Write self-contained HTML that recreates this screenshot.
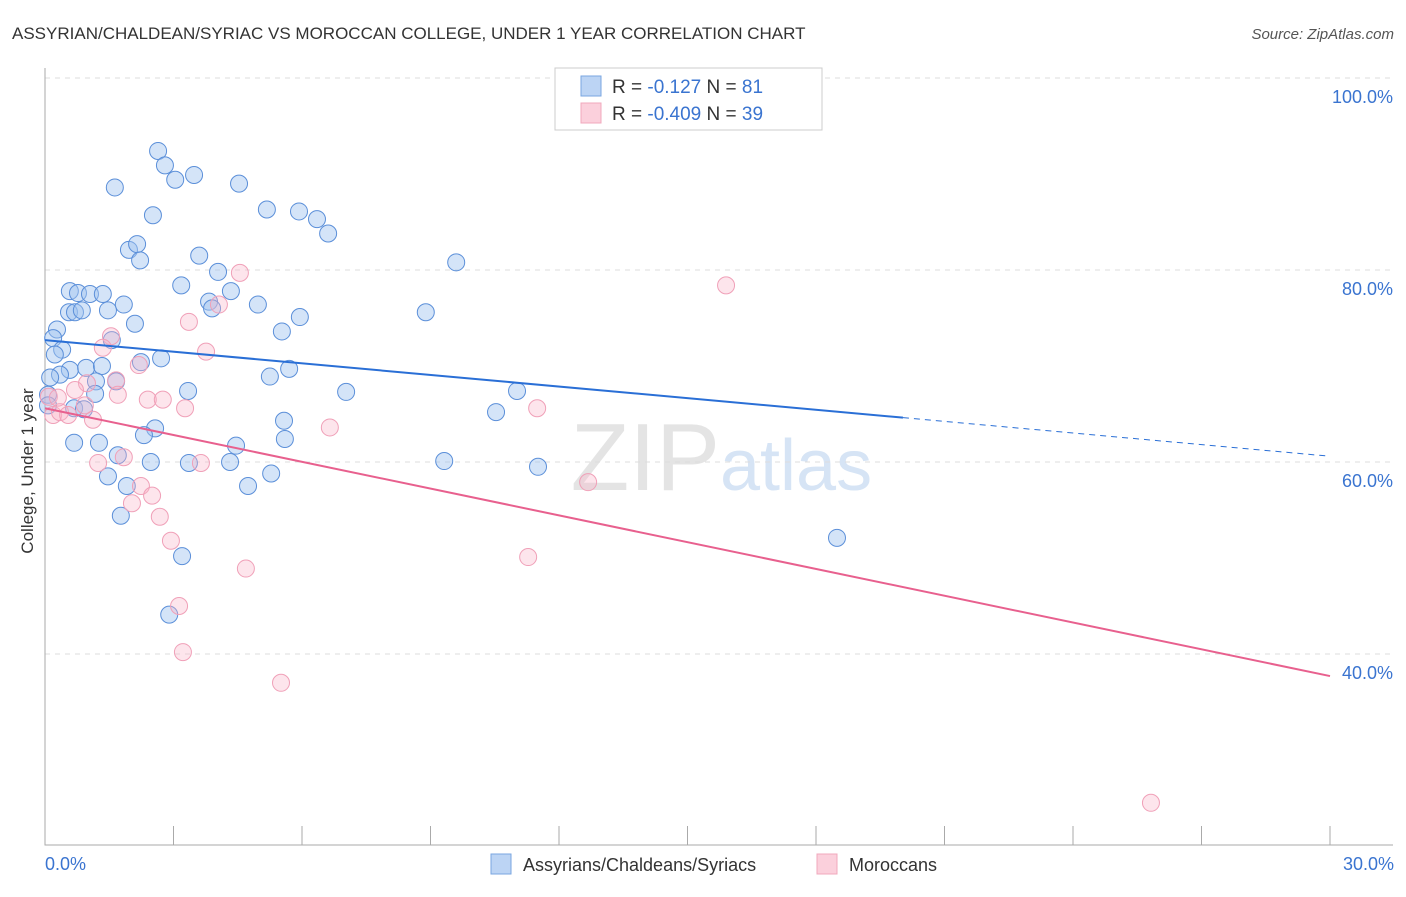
<!DOCTYPE html>
<html><head><meta charset="utf-8"><style>
body{margin:0;background:#fff;font-family:"Liberation Sans",sans-serif;}
svg text{font-family:"Liberation Sans",sans-serif;}
</style></head><body>
<svg width="1406" height="892" xmlns="http://www.w3.org/2000/svg">
<text x="12" y="39" font-size="17" fill="#333">ASSYRIAN/CHALDEAN/SYRIAC VS MOROCCAN COLLEGE, UNDER 1 YEAR CORRELATION CHART</text>
<text x="1394" y="39" font-size="15" fill="#555" font-style="italic" text-anchor="end">Source: ZipAtlas.com</text>
<text x="720" y="490" font-size="96" fill="#e4e4e4" text-anchor="end" font-family="Liberation Serif">ZIP</text>
<text x="720" y="490" font-size="72" fill="#d6e4f5">atlas</text>
<g id="grid"></g>
<g id="axes"></g>
<g id="pts"></g>
<g id="lines"></g>
<text x="20" y="458" font-size="17" fill="#333" transform="rotate(-90 33 458)" text-anchor="middle">College, Under 1 year</text>
<text x="45" y="870" font-size="18" fill="#3a74d0">0.0%</text>
<text x="1394" y="870" font-size="18" fill="#3a74d0" text-anchor="end">30.0%</text>
<g>
<rect x="555" y="68" width="267" height="62" fill="#fff" stroke="#ccc"/>
<rect x="581" y="76" width="20" height="20" fill="#bcd4f4" stroke="#7aa6e0"/>
<rect x="581" y="103" width="20" height="20" fill="#fbd0dc" stroke="#f0a8bc"/>
<text x="612" y="93" font-size="19" fill="#333">R = <tspan fill="#3a74d0"> -0.127</tspan>    N = <tspan fill="#3a74d0"> 81</tspan></text>
<text x="612" y="120" font-size="19" fill="#333">R = <tspan fill="#3a74d0">-0.409</tspan>    N = <tspan fill="#3a74d0">39</tspan></text>
</g>
<g>
<rect x="491" y="854" width="20" height="20" fill="#bcd4f4" stroke="#7aa6e0"/>
<text x="523" y="871" font-size="18" fill="#333">Assyrians/Chaldeans/Syriacs</text>
<rect x="817" y="854" width="20" height="20" fill="#fbd0dc" stroke="#f0a8bc"/>
<text x="849" y="871" font-size="18" fill="#333">Moroccans</text>
</g>
</svg>
<script>
const blueX=[2.64,2.80,3.04,3.48,4.53,1.63,2.52,5.18,5.93,6.35,6.61,1.96,2.15,2.22,3.60,9.60,4.04,3.18,4.34,0.58,0.77,1.05,1.35,1.84,3.83,3.90,4.97,0.56,0.70,0.86,1.47,8.89,5.95,2.10,5.53,0.28,0.19,1.56,0.40,0.23,2.71,2.24,5.70,0.58,0.35,0.96,1.33,1.19,5.25,1.66,0.12,3.34,7.03,11.02,1.17,0.07,0.68,0.91,10.53,5.58,2.57,2.31,5.60,0.68,1.26,4.46,1.70,2.47,3.36,4.32,9.32,11.51,1.47,5.28,1.91,4.74,1.77,3.20,18.49,2.90,0.07];
const blueY=[92.4,90.9,89.4,89.9,89.0,88.6,85.7,86.3,86.1,85.3,83.8,82.1,82.7,81.0,81.5,80.8,79.8,78.4,77.8,77.8,77.6,77.5,77.5,76.4,76.7,76.0,76.4,75.6,75.6,75.8,75.8,75.6,75.1,74.4,73.6,73.8,72.9,72.7,71.7,71.2,70.8,70.4,69.7,69.6,69.1,69.8,70.0,68.4,68.9,68.4,68.8,67.4,67.3,67.4,67.1,67.0,65.6,65.5,65.2,64.3,63.5,62.8,62.4,62.0,62.0,61.7,60.7,60.0,59.9,60.0,60.1,59.5,58.5,58.8,57.5,57.5,54.4,50.2,52.1,44.1,65.9];
const pinkX=[4.55,15.90,4.06,3.36,1.54,1.35,3.76,2.19,1.66,0.98,0.70,0.09,0.19,0.35,0.54,1.12,1.70,2.40,2.75,3.27,11.49,6.65,1.24,1.84,3.64,12.68,2.24,2.50,2.03,2.68,2.94,11.28,4.69,3.13,3.22,5.51,25.82,0.30,0.93];
const pinkY=[79.7,78.4,76.4,74.6,73.1,71.9,71.5,70.1,68.5,68.2,67.5,66.8,64.9,65.2,64.9,64.4,67.0,66.5,66.5,65.6,65.6,63.6,59.9,60.5,59.9,57.9,57.5,56.5,55.7,54.3,51.8,50.1,48.9,45.0,40.2,37.0,24.5,66.7,65.9];
const blueTrend=[72.7,60.6]; const blueSolidEnd=20.03;
const pinkTrend=[65.6,37.7];
const yTicks=[100,80,60,40];
const xTicks=[0,3,6,9,12,15,18,21,24,27,30];
const NS="http://www.w3.org/2000/svg";
const sx=v=>45+v/30*1285, sy=v=>78+(100-v)*9.6;
function mk(t,a,p){const e=document.createElementNS(NS,t);for(const k in a)e.setAttribute(k,a[k]);p.appendChild(e);return e;}
const grid=document.getElementById('grid'),axes=document.getElementById('axes');
yTicks.forEach(v=>{
 const l=mk('line',{x1:45,x2:1393,y1:sy(v),y2:sy(v),stroke:'#ddd','stroke-dasharray':'5,5'},grid);
 
 
 const t=mk('text',{x:1393,y:sy(v)+25,'font-size':18,fill:'#3a74d0','text-anchor':'end'},grid);
 t.textContent=v.toFixed(1)+'%';
 
 
});
const ax=mk('path',{d:'M45 68 V845 H1393',stroke:'#aaa',fill:'none'},axes);


xTicks.forEach(v=>{
 const l=mk('line',{x1:sx(v),x2:sx(v),y1:826,y2:845,stroke:'#aaa'},axes);
 
 
});
const pts=document.getElementById('pts');
blueX.forEach((x,i)=>{
 const c=mk('circle',{cx:sx(x),cy:sy(blueY[i]),r:8.5,fill:'rgba(160,196,240,0.45)',stroke:'#5b8fd9','stroke-width':1},pts);
 
 
});
pinkX.forEach((x,i)=>{
 const c=mk('circle',{cx:sx(x),cy:sy(pinkY[i]),r:8.5,fill:'rgba(248,180,200,0.35)',stroke:'#f0a0b8','stroke-width':1},pts);
 
 
});
const lines=document.getElementById('lines');
const by=x=>blueTrend[0]+(blueTrend[1]-blueTrend[0])*x/30;
const b1=mk('line',{x1:sx(0),y1:sy(by(0)),x2:sx(blueSolidEnd),y2:sy(by(blueSolidEnd)),stroke:'#2a6fd6','stroke-width':2},lines);


const b2=mk('line',{x1:sx(blueSolidEnd),y1:sy(by(blueSolidEnd)),x2:sx(30),y2:sy(by(30)),stroke:'#2a6fd6','stroke-width':1,'stroke-dasharray':'6,5'},lines);


const p1=mk('line',{x1:sx(0),y1:sy(pinkTrend[0]),x2:sx(30),y2:sy(pinkTrend[1]),stroke:'#e8608e','stroke-width':2},lines);


</script>
</body></html>
